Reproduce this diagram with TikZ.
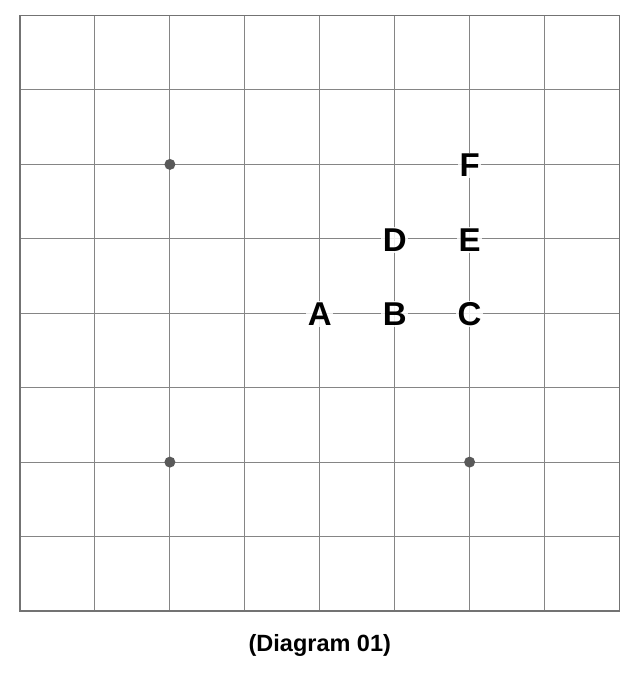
\documentclass[tikz,border=0pt]{standalone}
\usepackage{fontspec}
\setmainfont{Liberation Sans}
\begin{document}
\begin{tikzpicture}[x=1pt,y=-1pt,
  gridline/.style={draw=black!48, line width=1pt},
  border/.style={draw=black!55, line width=1.4pt},
  lbl/.style={font=\fontsize{33}{33}\selectfont\bfseries, fill=white, fill opacity=0.85, text opacity=1, inner sep=1.5pt},
  dotmark/.style={circle, fill=black!65, inner sep=0pt, minimum size=11pt},
  caption/.style={font=\fontsize{23.5}{24}\selectfont\bfseries}]
\useasboundingbox (0,0) rectangle (642,680);
% grid
\foreach \i in {1,...,7} {
  \draw[gridline] ({20+74.94*\i},15.5) -- ({20+74.94*\i},611);
  \draw[gridline] (20,{15.5+74.44*\i}) -- (619.5,{15.5+74.44*\i});
}
\draw[border] (20,15.5) rectangle (619.5,611);
% dots
\node[dotmark] (p1) at (169.9,164.4) {};
\node[dotmark] (p2) at (169.9,462.1) {};
\node[dotmark] (p3) at (469.6,462.1) {};
% labels
\node[lbl] (F) at (469.6,165.5) {F};
\node[lbl] (D) at (394.7,239.8) {D};
\node[lbl] (E) at (469.6,239.8) {E};
\node[lbl] (A) at (319.8,314.3) {A};
\node[lbl] (B) at (394.7,314.3) {B};
\node[lbl] (C) at (469.6,314.3) {C};
\node[caption] (cap) at (319.8,645) {(Diagram 01)};
\end{tikzpicture}
\end{document}
